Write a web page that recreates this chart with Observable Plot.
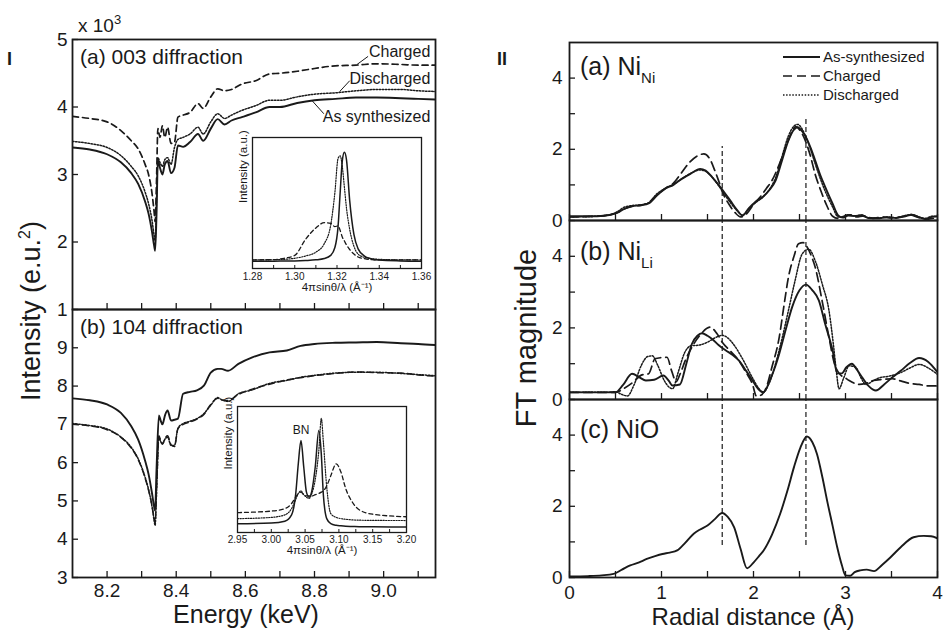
<!DOCTYPE html>
<html><head><meta charset="utf-8">
<script src="https://cdn.jsdelivr.net/npm/d3@7"></script>
<script src="https://cdn.jsdelivr.net/npm/@observablehq/plot@0.6"></script>
<style>
body{margin:0;background:#fff;}
#root{position:relative;width:944px;height:631px;overflow:hidden;background:#fff;font-family:"Liberation Sans",Arial,sans-serif;}
</style></head><body><div id="root"></div>
<script>
// ---------- Panel I(a): 003 diffraction ----------
const E003 = [8.10,8.15,8.20,8.24,8.27,8.29,8.31,8.32,8.33,8.336,8.339,8.343,8.347,8.353,8.36,8.367,8.375,8.385,8.395,8.405,8.42,8.44,8.463,8.478,8.50,8.52,8.54,8.56,8.59,8.63,8.67,8.70,8.75,8.80,8.86,8.92,8.98,9.05,9.10,9.15];
const syn003 = [3.40,3.37,3.30,3.18,3.02,2.86,2.60,2.42,2.15,1.95,1.87,2.40,3.21,3.10,3.00,3.15,3.20,3.02,3.10,3.43,3.41,3.48,3.60,3.50,3.68,3.82,3.74,3.80,3.85,3.92,4.00,4.00,4.06,4.10,4.12,4.14,4.14,4.13,4.12,4.11];
const dis003 = [3.49,3.46,3.40,3.28,3.12,2.98,2.74,2.57,2.32,2.10,2.02,2.60,3.25,3.18,3.12,3.22,3.25,3.15,3.40,3.52,3.55,3.60,3.70,3.60,3.78,3.90,3.83,3.88,3.95,4.02,4.10,4.10,4.15,4.19,4.21,4.24,4.26,4.26,4.24,4.23];
const chg003 = [3.86,3.83,3.78,3.65,3.50,3.38,3.15,3.00,2.72,2.45,2.30,2.90,3.68,3.55,3.72,3.55,3.70,3.46,3.48,3.85,3.88,3.92,4.05,3.98,4.15,4.27,4.24,4.26,4.34,4.39,4.49,4.50,4.53,4.57,4.61,4.62,4.64,4.63,4.62,4.62];
const annotE = [9.135, 9.135, 9.135];
const annotV = [4.81, 4.41, 3.86];
const annotT = ["Charged", "Discharged", "As synthesized"];
const leadE1 = [8.923, 8.873, 8.792], leadV1 = [4.63, 4.23, 4.10];
const leadE2 = [8.955, 8.902, 8.827], leadV2 = [4.75, 4.39, 3.90];

// ---------- Panel I(b): 104 diffraction ----------
const E104 = [8.10,8.15,8.20,8.24,8.27,8.29,8.31,8.32,8.33,8.336,8.339,8.343,8.35,8.355,8.36,8.368,8.375,8.385,8.395,8.405,8.42,8.44,8.46,8.48,8.50,8.52,8.53,8.55,8.58,8.62,8.67,8.72,8.76,8.80,8.86,8.92,8.98,9.05,9.10,9.15];
const syn104 = [7.68,7.63,7.52,7.30,6.95,6.60,6.05,5.70,5.20,4.85,4.75,5.80,7.23,7.10,7.00,7.25,7.36,7.10,7.12,7.15,7.80,7.85,7.89,8.01,8.35,8.45,8.45,8.40,8.58,8.75,8.88,8.93,9.05,9.10,9.13,9.14,9.15,9.12,9.10,9.07];
const dis104 = [7.02,6.97,6.88,6.67,6.40,6.10,5.62,5.30,4.85,4.50,4.36,5.20,6.67,6.55,6.50,6.62,6.67,6.45,6.45,6.90,7.02,7.08,7.15,7.28,7.50,7.70,7.65,7.60,7.80,7.90,8.07,8.15,8.23,8.28,8.34,8.36,8.36,8.33,8.30,8.27];
const chg104 = [7.00,6.96,6.86,6.66,6.38,6.08,5.60,5.28,4.88,4.55,4.42,5.25,6.70,6.58,6.48,6.64,6.70,6.47,6.42,6.88,7.00,7.06,7.14,7.26,7.52,7.68,7.64,7.62,7.78,7.92,8.05,8.16,8.22,8.27,8.33,8.37,8.35,8.34,8.29,8.26];

const eTicks = [8.2,8.3,8.4,8.5,8.6,8.7,8.8,8.9,9.0,9.1];
const eLabels = ["8.2","8.4","8.6","8.8","9.0"];
const yTicks003 = [1,2,3,4,5];
const yTicks104 = [3,4,5,6,7,8,9];

// ---------- Insets ----------
const Q003 = [1.28,1.29,1.295,1.30,1.305,1.31,1.314,1.317,1.319,1.3205,1.3215,1.3225,1.3235,1.3245,1.326,1.328,1.330,1.333,1.336,1.34,1.35,1.36];
const in003Syn = [0.056,0.056,0.057,0.058,0.061,0.066,0.076,0.10,0.16,0.32,0.58,0.82,0.887,0.83,0.52,0.26,0.15,0.095,0.075,0.064,0.058,0.056];
const in003Dis = [0.065,0.067,0.07,0.078,0.095,0.125,0.19,0.33,0.58,0.84,0.86,0.78,0.62,0.46,0.30,0.17,0.11,0.085,0.075,0.07,0.066,0.065];
const in003Chg = [0.066,0.068,0.078,0.10,0.22,0.31,0.35,0.345,0.32,0.325,0.29,0.24,0.21,0.18,0.145,0.11,0.088,0.075,0.068,0.066,0.066,0.066];
const q003Ticks = [1.28,1.29,1.30,1.31,1.32,1.33,1.34,1.35,1.36];
const q003Labels = ["1.28","1.30","1.32","1.34","1.36"];

const Q104 = [2.95,3.00,3.02,3.03,3.036,3.04,3.0439,3.048,3.052,3.056,3.06,3.065,3.0703,3.074,3.077,3.082,3.088,3.096,3.103,3.11,3.12,3.13,3.15,3.20];
const in104Syn = [0.07,0.075,0.09,0.14,0.30,0.55,0.73,0.52,0.32,0.28,0.33,0.52,0.81,0.62,0.30,0.11,0.07,0.057,0.053,0.05,0.048,0.046,0.045,0.044];
const in104Dis = [0.11,0.12,0.14,0.19,0.26,0.31,0.33,0.30,0.28,0.27,0.31,0.42,0.65,0.905,0.72,0.36,0.15,0.12,0.11,0.105,0.10,0.098,0.096,0.095];
const in104Chg = [0.158,0.17,0.19,0.23,0.28,0.31,0.32,0.30,0.29,0.29,0.29,0.30,0.31,0.32,0.33,0.37,0.45,0.545,0.48,0.35,0.24,0.18,0.145,0.125];
const q104Ticks = [2.95,2.975,3.00,3.025,3.05,3.075,3.10,3.125,3.15,3.175,3.20];
const q104Labels = ["2.95","3.00","3.05","3.10","3.15","3.20"];
const bnQ = [3.044], bnV = [0.81], bnT = ["BN"];

// ---------- Panel II ----------
const aSynR = [0,0.3,0.45,0.52,0.6,0.68,0.78,0.86,0.95,1.04,1.13,1.22,1.32,1.42,1.48,1.55,1.62,1.68,1.75,1.82,1.88,1.95,2.02,2.1,2.17,2.24,2.31,2.38,2.44,2.48,2.53,2.57,2.62,2.67,2.73,2.78,2.86,2.92,2.97,3.03,3.1,3.17,3.25,3.35,3.45,3.55,3.65,3.72,3.8,3.87,3.94,4.0];
const aSynV = [0.12,0.12,0.16,0.22,0.33,0.4,0.43,0.48,0.7,0.89,1.0,1.17,1.32,1.45,1.4,1.22,1.0,0.8,0.55,0.3,0.14,0.35,0.52,0.66,0.85,1.12,1.69,2.25,2.55,2.62,2.5,2.34,2.05,1.69,1.25,0.94,0.47,0.14,0.08,0.14,0.13,0.14,0.07,0.06,0.09,0.07,0.12,0.16,0.09,0.04,0.1,0.12];
const aDisV = [0.1,0.12,0.17,0.25,0.38,0.42,0.44,0.5,0.75,0.9,1.02,1.17,1.33,1.42,1.38,1.22,0.98,0.75,0.5,0.28,0.15,0.33,0.5,0.65,0.86,1.2,1.8,2.38,2.65,2.7,2.56,2.35,2.0,1.6,1.15,0.82,0.38,0.1,0.1,0.16,0.12,0.16,0.08,0.07,0.1,0.08,0.14,0.17,0.1,0.06,0.12,0.1];
const aChgR = [0,0.3,0.45,0.52,0.6,0.68,0.78,0.86,0.95,1.04,1.13,1.22,1.3,1.38,1.46,1.52,1.58,1.63,1.68,1.73,1.8,1.86,1.93,2.0,2.07,2.14,2.2,2.26,2.31,2.37,2.42,2.46,2.5,2.57,2.62,2.67,2.73,2.8,2.86,2.92,2.98,3.05,3.12,3.2,3.3,3.4,3.5,3.6,3.7,3.8,3.9,4.0];
const aChgV = [0.1,0.12,0.17,0.22,0.33,0.4,0.43,0.5,0.72,0.9,1.05,1.35,1.62,1.8,1.87,1.75,1.4,1.05,0.7,0.47,0.22,0.1,0.2,0.45,0.65,0.9,1.12,1.45,1.78,2.2,2.5,2.64,2.55,2.2,1.8,1.3,0.85,0.4,0.12,0.06,0.12,0.16,0.1,0.13,0.06,0.1,0.07,0.1,0.16,0.08,0.04,0.1];

const bSynR = [0,0.3,0.5,0.58,0.68,0.76,0.83,0.92,1.02,1.08,1.12,1.2,1.27,1.33,1.39,1.44,1.5,1.55,1.62,1.7,1.77,1.84,1.92,1.99,2.05,2.11,2.18,2.24,2.28,2.35,2.42,2.5,2.57,2.64,2.71,2.78,2.86,2.91,2.96,3.01,3.07,3.12,3.18,3.25,3.33,3.42,3.51,3.6,3.7,3.8,3.9,4.0];
const bSynV = [0.2,0.2,0.2,0.4,0.72,0.62,0.53,0.55,0.67,0.52,0.39,0.42,1.0,1.55,1.78,1.85,1.78,1.69,1.52,1.37,1.25,1.09,0.8,0.53,0.3,0.2,0.55,0.95,1.28,1.95,2.58,3.05,3.21,3.05,2.77,2.1,1.37,0.73,0.73,0.9,1.0,0.85,0.62,0.38,0.25,0.42,0.62,0.8,1.02,1.16,1.05,0.76];
const bDisR = [0,0.2,0.4,0.5,0.56,0.63,0.7,0.78,0.85,0.9,0.96,1.03,1.08,1.12,1.18,1.25,1.32,1.41,1.5,1.58,1.66,1.72,1.78,1.88,1.99,2.06,2.1,2.17,2.24,2.31,2.38,2.45,2.53,2.6,2.67,2.75,2.82,2.87,2.9,2.93,2.98,3.04,3.11,3.17,3.22,3.3,3.36,3.47,3.6,3.7,3.8,3.9,4.0];
const bDisV = [0.2,0.2,0.2,0.22,0.15,0.1,0.4,0.95,1.2,1.22,0.95,0.53,0.35,0.3,0.75,1.3,1.5,1.52,1.6,1.72,1.79,1.72,1.55,1.14,0.6,0.3,0.2,0.45,1.0,1.7,2.49,3.3,4.07,4.2,3.88,3.2,2.49,1.5,0.8,0.3,0.6,0.94,0.9,0.6,0.42,0.52,0.6,0.65,0.75,0.88,0.98,0.88,0.7];
const bChgR = [0,0.3,0.5,0.6,0.7,0.78,0.86,0.93,1.0,1.06,1.11,1.16,1.2,1.26,1.33,1.42,1.53,1.6,1.66,1.75,1.84,1.92,1.99,2.03,2.08,2.13,2.2,2.28,2.33,2.38,2.44,2.49,2.54,2.58,2.63,2.67,2.75,2.82,2.88,2.93,3.0,3.04,3.1,3.15,3.22,3.3,3.4,3.51,3.6,3.7,3.8,3.9,4.0];
const bChgV = [0.2,0.2,0.2,0.32,0.5,0.68,0.72,1.14,1.17,1.18,0.8,0.5,0.7,1.1,1.46,1.8,2.02,1.85,1.6,1.35,1.09,0.75,0.42,0.1,0.12,0.28,0.9,1.74,2.6,3.42,4.0,4.35,4.38,4.27,4.0,3.7,2.7,1.74,1.0,0.73,0.6,0.53,0.45,0.42,0.45,0.53,0.56,0.58,0.52,0.45,0.42,0.38,0.38];

const cR = [0,0.2,0.35,0.48,0.57,0.66,0.75,0.84,0.93,1.01,1.09,1.17,1.26,1.35,1.42,1.5,1.58,1.66,1.72,1.79,1.86,1.93,2.0,2.06,2.11,2.2,2.29,2.37,2.44,2.51,2.58,2.64,2.69,2.75,2.8,2.86,2.91,2.96,3.0,3.05,3.1,3.16,3.23,3.31,3.4,3.49,3.6,3.74,3.85,3.93,4.0];
const cV = [0.03,0.04,0.06,0.1,0.22,0.34,0.42,0.52,0.6,0.66,0.7,0.76,0.98,1.23,1.35,1.46,1.64,1.81,1.7,1.41,0.8,0.26,0.42,0.6,0.76,1.2,1.79,2.45,3.1,3.65,3.96,3.8,3.47,2.8,2.16,1.45,0.85,0.35,0.06,0.05,0.15,0.2,0.22,0.18,0.36,0.57,0.85,1.13,1.17,1.16,1.1];

const guideR = [1.66, 2.57];
const guideTopA = [2.08, 2.92];
const guideBottomC = [0.9, 0.9];
const rTicksX = [0,0.5,1,1.5,2,2.5,3,3.5,4];
const rTicksY = [0,1,2,3,4];
const legendNames = ["As-synthesized", "Charged", "Discharged"];

// ---------- helpers ----------
const ink = "#1a1a1a";
const font = '"Liberation Sans", Arial, sans-serif';
const root = document.getElementById("root");
const baseStyle = {background: "transparent", fontFamily: font, color: ink, overflow: "visible"};
const dashChg = "6,4", dashDis = "1.5,1.6", dashChgR = "9,5";

function rows(xs, ys) { return xs.map((x, i) => ({x, y: ys[i]})); }
function line(xs, ys, dash, w) {
  return Plot.line(rows(xs, ys), {x: "x", y: "y", stroke: ink, strokeWidth: w, strokeDasharray: dash, curve: "monotone-x", clip: true});
}
function place(el, left, top) {
  el.style.position = "absolute";
  el.style.left = left + "px";
  el.style.top = top + "px";
  root.appendChild(el);
}
// inward ticks + tick labels
function yAxis(ticks, W, fmt, fs, pad, len = 6, sw = 1.3) {
  return [
    Plot.tickY(ticks, {y: d => d, insetRight: W - len, stroke: ink, strokeWidth: sw}),
    Plot.axisY(ticks, {tickSize: 0, tickPadding: pad, tickFormat: fmt, fontSize: fs, label: null})
  ];
}
function xAxis(ticks, H, fmt, fs, pad, len = 6, sw = 1.3) {
  return [
    Plot.tickX(ticks, {x: d => d, insetTop: H - len, stroke: ink, strokeWidth: sw}),
    Plot.axisX(ticks, {tickSize: 0, tickPadding: pad, tickFormat: fmt, fontSize: fs, label: null})
  ];
}
const fmtE = d => { const s = d.toFixed(1); return eLabels.includes(s) ? s : ""; };
const blank = () => "";

// ---------- I(a) ----------
place(Plot.plot({
  width: 470, height: 320, marginLeft: 72, marginRight: 35, marginTop: 39, marginBottom: 11,
  style: baseStyle,
  x: {domain: [8.1, 9.15], label: null},
  y: {domain: [1, 5], label: null},
  marks: [
    ...yAxis(yTicks003, 363, d => String(d), 19, 5),
    ...xAxis(eTicks, 270, blank, 19, 5),
    line(E003, dis003, dashDis, 1.5),
    line(E003, chg003, dashChg, 1.7),
    line(E003, syn003, null, 1.9),
    Plot.link(leadE1.map((e, i) => ({x1: e, y1: leadV1[i], x2: leadE2[i], y2: leadV2[i]})), {x1: "x1", y1: "y1", x2: "x2", y2: "y2", stroke: ink, strokeWidth: 1}),
    Plot.text(annotE.map((e, i) => ({e, v: annotV[i], t: annotT[i]})), {x: "e", y: "v", text: "t", textAnchor: "end", fontSize: 16, fill: ink}),
    Plot.frame({stroke: ink, strokeWidth: 1.8})
  ]
}), 0, 0);

// ---------- I(b) ----------
place(Plot.plot({
  width: 470, height: 331, marginLeft: 72, marginRight: 35, marginTop: 9, marginBottom: 54,
  style: baseStyle,
  x: {domain: [8.1, 9.15], label: null},
  y: {domain: [3, 10], label: null},
  marks: [
    ...yAxis(yTicks104, 363, d => String(d), 19, 5),
    ...xAxis(eTicks, 268, fmtE, 19, 6),
    line(E104, dis104, dashDis, 1.5),
    line(E104, chg104, dashChg, 1.5),
    line(E104, syn104, null, 1.9),
    Plot.frame({stroke: ink, strokeWidth: 1.8})
  ]
}), 0, 300);

// ---------- insets ----------
function inset(Q, syn, dis, chg, ticks, labels, dom, mb, pad, titleDy, extra) {
  const H = 170 - 9 - mb;
  return Plot.plot({
    width: 205, height: 170, marginLeft: 27, marginRight: 9, marginTop: 9, marginBottom: mb,
    style: baseStyle,
    x: {domain: dom, label: null},
    y: {domain: [0, 1], label: null, axis: null},
    marks: [
      Plot.frame({fill: "white", stroke: null}),
      ...xAxis(ticks, H, d => { const s = d.toFixed(2); return labels.includes(s) ? s : ""; }, 10, pad, 3, 1),
      line(Q, dis, "1.2,1.4", 1.2),
      line(Q, chg, "4,3", 1.3),
      line(Q, syn, null, 1.5),
      ...extra,
      Plot.text(["Intensity (a.u.)"], {text: d => d, frameAnchor: "left", rotate: -90, dx: -9, fontSize: 11.5, fill: ink}),
      Plot.text(["4πsinθ/λ (Å⁻¹)"], {text: d => d, frameAnchor: "bottom", dy: titleDy, fontSize: 11.5, fill: ink}),
      Plot.frame({stroke: ink, strokeWidth: 1.3})
    ]
  });
}
place(inset(Q003, in003Syn, in003Dis, in003Chg, q003Ticks, q003Labels, [1.28, 1.36], 30, 4, 22, []), 225, 128);
place(inset(Q104, in104Syn, in104Dis, in104Chg, q104Ticks, q104Labels, [2.95, 3.20], 35, 3, 21,
  [Plot.text(bnQ.map((q, i) => ({q, v: bnV[i], t: bnT[i]})), {x: "q", y: "v", text: "t", fontSize: 12, fill: ink})]), 210, 397);

// ---------- II panels ----------
function rPanel(height, mTop, mBottom, curves, guides, showX) {
  const H = height - mTop - mBottom;
  return Plot.plot({
    width: 464, height, marginLeft: 89, marginRight: 7, marginTop: mTop, marginBottom: mBottom,
    style: baseStyle,
    x: {domain: [0, 4], label: null},
    y: {domain: [0, 5], label: null},
    marks: [
      ...yAxis(rTicksY, 368, d => d % 2 === 0 ? String(d) : "", 19, 7),
      ...xAxis(rTicksX, H, d => showX && Number.isInteger(d) ? String(d) : "", 19, 8),
      Plot.ruleX(guides, {x: "r", y1: "lo", y2: "hi", stroke: ink, strokeWidth: 1.2, strokeDasharray: "5,3"}),
      ...curves,
      Plot.frame({stroke: ink, strokeWidth: 1.8})
    ]
  });
}
place(rPanel(230, 42, 10, [
  line(aSynR, aDisV, dashDis, 1.5),
  line(aChgR, aChgV, dashChgR, 1.7),
  line(aSynR, aSynV, null, 1.9)
], guideR.map((r, i) => ({r, lo: 0, hi: guideTopA[i]})), false), 480, 0);

place(rPanel(200, 10, 11, [
  line(bDisR, bDisV, dashDis, 1.5),
  line(bChgR, bChgV, dashChgR, 1.7),
  line(bSynR, bSynV, null, 1.9)
], guideR.map(r => ({r, lo: 0, hi: 5})), false), 480, 210);

place(rPanel(242, 10, 54, [
  line(cR, cV, null, 1.9)
], guideR.map((r, i) => ({r, lo: guideBottomC[i], hi: 5})), true), 480, 389);

// ---------- titles & legend overlay ----------
const svg = d3.create("svg").attr("width", 944).attr("height", 631)
  .style("position", "absolute").style("left", "0px").style("top", "0px")
  .style("pointer-events", "none").style("font-family", font).attr("fill", ink);

svg.append("text").attr("x", 7).attr("y", 65).attr("font-size", 18).attr("font-weight", "bold").text("I");
svg.append("text").attr("x", 497).attr("y", 65).attr("font-size", 18).attr("font-weight", "bold").text("II");
const x10 = svg.append("text").attr("x", 78).attr("y", 32).attr("font-size", 19);
x10.append("tspan").text("x 10");
x10.append("tspan").attr("dy", -8).attr("font-size", 13).text("3");

svg.append("text").attr("x", 80).attr("y", 64).attr("font-size", 21).text("(a) 003 diffraction");
svg.append("text").attr("x", 80).attr("y", 334).attr("font-size", 21).text("(b) 104 diffraction");

const yl = svg.append("text").attr("transform", "translate(40,311) rotate(-90)").attr("text-anchor", "middle").attr("font-size", 27);
yl.append("tspan").text("Intensity (e.u.");
yl.append("tspan").attr("dy", -10).attr("font-size", 16).text("2");
yl.append("tspan").attr("dy", 10).text(")");
svg.append("text").attr("x", 246).attr("y", 623).attr("text-anchor", "middle").attr("font-size", 25).text("Energy (keV)");

function sub(y, main, s) {
  const t = svg.append("text").attr("x", 580).attr("y", y).attr("font-size", 25);
  t.append("tspan").text(main);
  if (s) t.append("tspan").attr("dy", 8).attr("font-size", 15).text(s);
}
sub(75, "(a) Ni", "Ni");
sub(260, "(b) Ni", "Li");
sub(438, "(c) NiO", null);

svg.append("text").attr("transform", "translate(536,338) rotate(-90)").attr("text-anchor", "middle").attr("font-size", 29).text("FT magnitude");
svg.append("text").attr("x", 753).attr("y", 625).attr("text-anchor", "middle").attr("font-size", 24).text("Radial distance (Å)");

const legDash = [null, dashChgR, dashDis];
const legW = [1.9, 1.7, 1.5];
legendNames.forEach((name, i) => {
  const y = 57 + i * 19;
  svg.append("line").attr("x1", 783).attr("x2", 820).attr("y1", y).attr("y2", y)
    .attr("stroke", ink).attr("stroke-width", legW[i]).attr("stroke-dasharray", legDash[i]);
  svg.append("text").attr("x", 823).attr("y", y).attr("dy", "0.35em").attr("font-size", 15).text(name);
});
root.appendChild(svg.node());
</script></body></html>
